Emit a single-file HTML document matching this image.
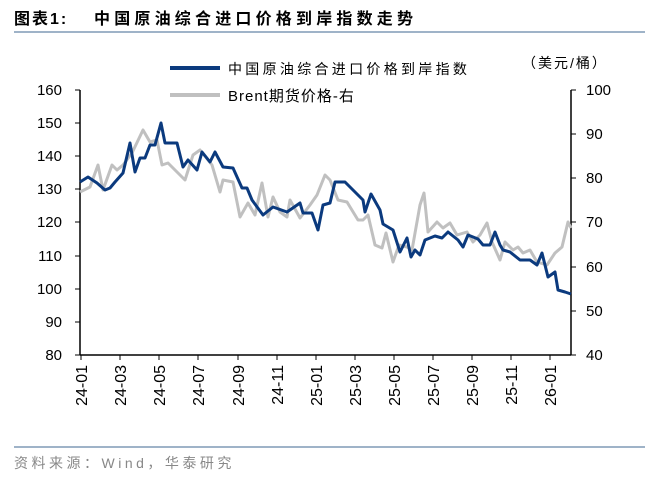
<!DOCTYPE html>
<html><head><meta charset="utf-8"><style>
body{margin:0;background:#fff;}
svg{display:block;font-family:"Liberation Sans","Noto Sans CJK SC",sans-serif;}
</style></head><body>
<svg width="660" height="479" viewBox="0 0 660 479" xmlns="http://www.w3.org/2000/svg">
<text x="14" y="24" font-size="16" font-weight="bold" fill="#000" letter-spacing="2">图表1:</text>
<text x="94" y="24" font-size="16" font-weight="bold" fill="#000" letter-spacing="4.2">中国原油综合进口价格到岸指数走势</text>
<line x1="14" y1="32" x2="645" y2="32" stroke="#9fb3c8" stroke-width="2"/>
<line x1="14" y1="447" x2="645" y2="447" stroke="#9fb3c8" stroke-width="2"/>
<text x="14" y="468" font-size="14" fill="#888" letter-spacing="3.5">资料来源：Wind，华泰研究</text>

<line x1="170" y1="68" x2="220" y2="68" stroke="#0b3a7e" stroke-width="4"/>
<text x="228" y="74" font-size="14" fill="#000" letter-spacing="3.3">中国原油综合进口价格到岸指数</text>
<line x1="170" y1="95" x2="220" y2="95" stroke="#c0c0c0" stroke-width="4"/>
<text x="228" y="101" font-size="15" fill="#000" letter-spacing="1">Brent期货价格-右</text>
<text x="522" y="68" font-size="14" fill="#000" letter-spacing="2">（美元/桶）</text>

<g stroke="#000" stroke-width="1.5" fill="none">
<line x1="80" y1="90" x2="80" y2="355"/>
<line x1="571" y1="90" x2="571" y2="355"/>
<line x1="80" y1="355" x2="571" y2="355"/>
</g>
<g stroke="#000" stroke-width="1">
<line x1="75" y1="90" x2="80" y2="90"/><line x1="75" y1="123" x2="80" y2="123"/><line x1="75" y1="156" x2="80" y2="156"/><line x1="75" y1="189" x2="80" y2="189"/><line x1="75" y1="222" x2="80" y2="222"/><line x1="75" y1="256" x2="80" y2="256"/><line x1="75" y1="289" x2="80" y2="289"/><line x1="75" y1="322" x2="80" y2="322"/><line x1="75" y1="355" x2="80" y2="355"/>
<line x1="571" y1="90" x2="576" y2="90"/><line x1="571" y1="134" x2="576" y2="134"/><line x1="571" y1="178" x2="576" y2="178"/><line x1="571" y1="222" x2="576" y2="222"/><line x1="571" y1="267" x2="576" y2="267"/><line x1="571" y1="311" x2="576" y2="311"/><line x1="571" y1="355" x2="576" y2="355"/>
<line x1="81" y1="355" x2="81" y2="360"/><line x1="120" y1="355" x2="120" y2="360"/><line x1="159" y1="355" x2="159" y2="360"/><line x1="198" y1="355" x2="198" y2="360"/><line x1="238" y1="355" x2="238" y2="360"/><line x1="277" y1="355" x2="277" y2="360"/><line x1="316" y1="355" x2="316" y2="360"/><line x1="355" y1="355" x2="355" y2="360"/><line x1="394" y1="355" x2="394" y2="360"/><line x1="433" y1="355" x2="433" y2="360"/><line x1="472" y1="355" x2="472" y2="360"/><line x1="511" y1="355" x2="511" y2="360"/><line x1="550" y1="355" x2="550" y2="360"/>
</g>
<g font-size="15" fill="#000" text-anchor="end">
<text x="62" y="95">160</text><text x="62" y="128">150</text><text x="62" y="161">140</text><text x="62" y="194">130</text><text x="62" y="227">120</text><text x="62" y="261">110</text><text x="62" y="294">100</text><text x="62" y="327">90</text><text x="62" y="360">80</text>
</g>
<g font-size="15" fill="#000">
<text x="586" y="95">100</text><text x="586" y="139">90</text><text x="586" y="183">80</text><text x="586" y="227">70</text><text x="586" y="272">60</text><text x="586" y="316">50</text><text x="586" y="360">40</text>
</g>
<g font-size="16" fill="#000" text-anchor="end">
<text transform="translate(87,365) rotate(-90)">24-01</text>
<text transform="translate(126,365) rotate(-90)">24-03</text>
<text transform="translate(165,365) rotate(-90)">24-05</text>
<text transform="translate(204,365) rotate(-90)">24-07</text>
<text transform="translate(244,365) rotate(-90)">24-09</text>
<text transform="translate(283,365) rotate(-90)">24-11</text>
<text transform="translate(322,365) rotate(-90)">25-01</text>
<text transform="translate(361,365) rotate(-90)">25-03</text>
<text transform="translate(400,365) rotate(-90)">25-05</text>
<text transform="translate(439,365) rotate(-90)">25-07</text>
<text transform="translate(478,365) rotate(-90)">25-09</text>
<text transform="translate(517,365) rotate(-90)">25-11</text>
<text transform="translate(556,365) rotate(-90)">26-01</text>
</g>

<polyline fill="none" stroke="#c0c0c0" stroke-width="3" stroke-linejoin="round" points="80,192 90,187 98,165 103,190 112,165 117,170 123,165 132,153 143,130 150,142 157,140 162,165 168,163 185,180 193,155 200,150 212,165 220,192 223,180 233,182 240,217 248,203 255,215 262,183 268,217 273,197 280,212 287,217 290,200 300,218 310,205 317,195 325,175 330,180 338,200 347,202 358,220 363,220 368,215 375,245 382,248 386,233 393,262 399,245 407,247 412,250 420,205 424,193 428,232 437,222 443,228 450,223 457,235 467,232 473,242 480,235 487,223 492,242 500,260 505,242 513,250 518,247 523,253 530,250 537,262 547,265 555,253 562,247 568,222 571,228"/>
<polyline fill="none" stroke="#0b3a7e" stroke-width="3" stroke-linejoin="round" points="80,182 88,177 97,183 105,190 110,188 115,182 123,173 130,143 135,172 140,158 145,158 150,145 155,145 161,123 165,143 177,143 183,167 188,160 197,170 202,152 210,162 215,152 223,167 233,168 242,188 247,188 252,200 263,215 273,207 287,212 300,203 303,213 312,213 318,230 323,205 330,203 335,182 345,182 363,200 365,212 371,194 380,210 383,224 393,230 400,252 407,238 411,257 415,250 420,255 425,240 435,236 442,238 448,232 458,240 463,247 468,235 473,237 478,239 483,245 490,245 495,232 500,245 503,250 510,252 520,260 530,260 537,265 542,253 548,277 555,272 558,290 565,292 571,294"/>
</svg>
</body></html>
